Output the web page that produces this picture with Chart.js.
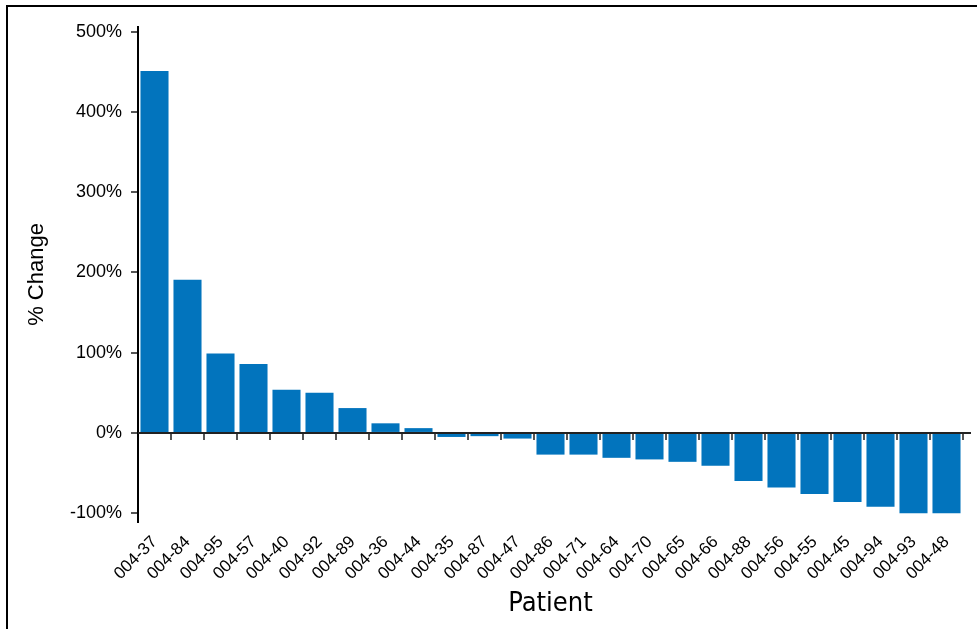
<!DOCTYPE html>
<html>
<head>
<meta charset="utf-8">
<script src="https://cdn.jsdelivr.net/npm/chart.js@4.4.1/dist/chart.umd.min.js"></script>
<style>
  html, body { margin: 0; padding: 0; background: #fff; overflow: hidden; }
  #wrap { position: absolute; left: 0; top: 0; width: 977px; height: 629px; }
  #frame {
    position: absolute; left: 6px; top: 5px; width: 1200px; height: 1200px;
    border-left: 2px solid #000; border-top: 2px solid #000; pointer-events: none;
  }
</style>
</head>
<body>
<div id="wrap"><canvas id="chart"></canvas></div>
<div id="frame"></div>
<script>
// Patient IDs (sorted by % change)
const patients = [
  '004-37', '004-84', '004-95', '004-57', '004-40', '004-92', '004-89', '004-36', '004-44',
  '004-35', '004-87', '004-47', '004-86', '004-71', '004-64', '004-70', '004-65', '004-66',
  '004-88', '004-56', '004-55', '004-45', '004-94', '004-93', '004-48'
];

// % change per patient
const pctChange = [
  451, 191, 99, 86, 54, 50, 31, 12, 6,
  -5, -4, -7, -27, -27, -31, -33, -36, -41,
  -60, -68, -76, -86, -92, -100, -100
];

// y tick values
const yTicks = [-100, 0, 100, 200, 300, 400, 500];

const BLUE = '#0274BD';
const FONT = "'Liberation Sans', Arial, Helvetica, sans-serif";
const NARROW = "'DejaVu Sans Condensed', 'Liberation Sans Narrow', 'DejaVu Sans', sans-serif";

// zero line drawn over the bars, a little past the last category
const zeroLine = {
  id: 'zeroLine',
  afterDatasetsDraw(chart) {
    const { ctx, chartArea, scales } = chart;
    const y = Math.round(scales.y.getPixelForValue(0));
    ctx.save();
    ctx.strokeStyle = '#222';
    ctx.lineWidth = 2;
    ctx.beginPath();
    ctx.moveTo(chartArea.left, y);
    ctx.lineTo(chartArea.right + 8, y);
    ctx.stroke();
    ctx.restore();
  }
};

new Chart(document.getElementById('chart'), {
  type: 'bar',
  data: {
    labels: patients,
    datasets: [{
      data: pctChange,
      backgroundColor: BLUE,
      borderWidth: 0,
      barPercentage: 0.85,
      categoryPercentage: 1.0,
    }],
  },
  options: {
    responsive: true,
    maintainAspectRatio: false,
    animation: false,
    layout: { padding: { left: 20, top: 27, right: 14, bottom: 0 } },
    plugins: { legend: { display: false }, tooltip: { enabled: false } },
    scales: {
      x: {
        offset: true,
        grid: { display: false },
        border: { display: false },
        ticks: {
          autoSkip: false,
          minRotation: 45,
          maxRotation: 45,
          padding: 2,
          color: '#000',
          font: { family: FONT, size: 17 },
        },
        title: {
          display: true,
          text: 'Patient',
          color: '#000',
          font: { family: NARROW, size: 27, weight: 'condensed' },
          padding: { top: 4, bottom: 9 },
        },
        afterFit: s => { s.height = 107; },
      },
      x2: {
        type: 'category',
        position: { y: 0 },
        offset: true,
        z: 1,
        grid: {
          offset: true,
          drawOnChartArea: false,
          drawTicks: true,
          tickLength: 7,
          color: '#555',
          lineWidth: 2,
        },
        border: { display: false },
        ticks: { display: false },
      },
      y: {
        min: -111,
        max: 506,
        afterBuildTicks: s => { s.ticks = yTicks.map(v => ({ value: v })); },
        grid: {
          drawOnChartArea: false,
          drawTicks: true,
          tickLength: 7,
          color: '#555',
          lineWidth: 2,
        },
        border: { display: true, color: '#000', width: 2 },
        ticks: {
          padding: 9,
          color: '#000',
          font: { family: FONT, size: 18 },
          callback: v => v + '%',
        },
        title: {
          display: true,
          text: '% Change',
          color: '#000',
          font: { family: FONT, size: 22 },
          padding: { top: 4, bottom: 4 },
        },
        afterFit: s => { s.width = 118; },
      },
    },
  },
  plugins: [zeroLine],
});
</script>
</body>
</html>
